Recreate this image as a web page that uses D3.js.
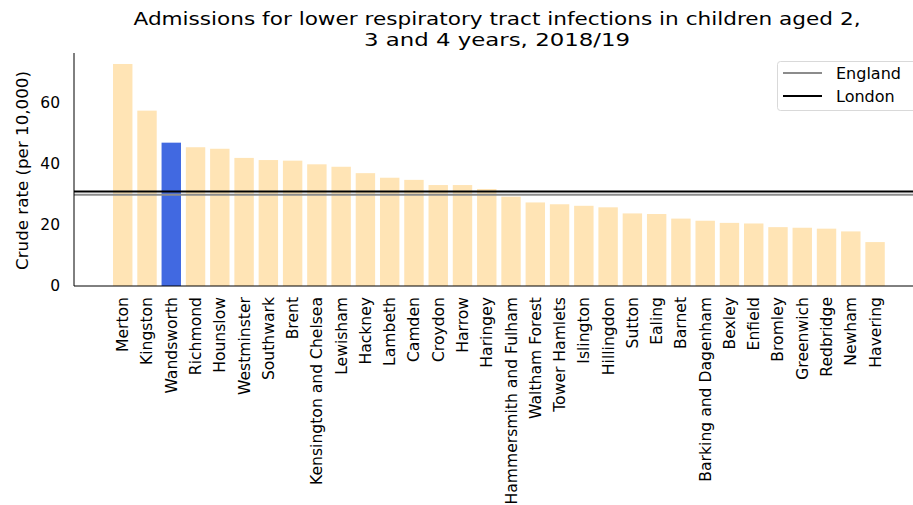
<!DOCTYPE html>
<html>
<head>
<meta charset="utf-8">
<script src="https://cdnjs.cloudflare.com/ajax/libs/d3/7.8.5/d3.min.js"></script>
<style>
body{margin:0;padding:0;background:#fff;overflow:hidden;}
svg{display:block;font-family:"DejaVu Sans",sans-serif;}
</style>
</head>
<body>
<div id="chart"></div>
<script>
// boroughs, sorted by rate
var boroughs = ["Merton","Kingston","Wandsworth","Richmond","Hounslow","Westminster","Southwark","Brent",
  "Kensington and Chelsea","Lewisham","Hackney","Lambeth","Camden","Croydon","Harrow","Haringey",
  "Hammersmith and Fulham","Waltham Forest","Tower Hamlets","Islington","Hillingdon","Sutton","Ealing",
  "Barnet","Barking and Dagenham","Bexley","Enfield","Bromley","Greenwich","Redbridge","Newham","Havering"];
var rates = [72.8,57.5,47.0,45.5,45.0,42.0,41.3,41.1,39.9,39.1,37.0,35.5,34.8,33.1,33.1,31.8,
  29.3,27.4,26.8,26.3,25.8,23.8,23.6,22.1,21.4,20.7,20.5,19.3,19.1,18.8,17.9,14.4];
var highlight = "Wandsworth";
var refNames = ["England","London"];
var refValues = [29.9,31.0];
var refColours = ["#8c8c8c","#000000"];
var yTicks = [0,20,40,60];
var title = ["Admissions for lower respiratory tract infections in children aged 2,","3 and 4 years, 2018/19"];

(function(){
var W = 913, H = 505;
var mLeft = 74, mRight = 920, mTop = 53, mBottom = 286;
var titleWidths = [727, 266];

var svg = d3.select("#chart").append("svg").attr("width", W).attr("height", H);

var x = d3.scaleBand().domain(boroughs).range([110.6, 887.2]).paddingInner(0.2).paddingOuter(0.1);
var y = d3.scaleLinear().domain([0, 76.4]).range([mBottom, mTop]);

svg.append("g").selectAll("rect")
  .data(boroughs)
  .enter().append("rect")
    .attr("x", function(d){return x(d);})
    .attr("width", x.bandwidth())
    .attr("y", function(d, i){return y(rates[i]);})
    .attr("height", function(d, i){return y(0) - y(rates[i]);})
    .attr("fill", function(d){return d == highlight ? "#4169e1" : "#ffe4b5";});

// reference lines
svg.append("g").selectAll("line")
  .data(refValues)
  .enter().append("line")
    .attr("x1", mLeft).attr("x2", mRight)
    .attr("y1", function(d){return y(d);})
    .attr("y2", function(d){return y(d);})
    .attr("stroke", function(d, i){return refColours[i];})
    .attr("stroke-width", 2);

// axes
var ya = svg.append("g").attr("transform", "translate(" + mLeft + ",0)")
  .call(d3.axisLeft(y).tickValues(yTicks).tickSize(0).tickPadding(14));
ya.select(".domain").remove();
ya.selectAll("text").attr("font-size", 15.5).attr("font-family", "DejaVu Sans").attr("fill", "#000");

var xa = svg.append("g").attr("transform", "translate(0," + mBottom + ")")
  .call(d3.axisBottom(x).tickSize(0));
xa.select(".domain").remove();
xa.selectAll("text")
  .attr("font-size", 15.6).attr("font-family", "DejaVu Sans").attr("fill", "#000")
  .attr("text-anchor", "end")
  .attr("transform", "rotate(-90)")
  .attr("x", -11).attr("y", 0).attr("dy", "0.35em");

svg.append("line").attr("x1", mLeft).attr("x2", mLeft).attr("y1", mTop).attr("y2", mBottom)
  .attr("stroke", "#000").attr("stroke-width", 1);
svg.append("line").attr("x1", mLeft).attr("x2", mRight).attr("y1", mBottom).attr("y2", mBottom)
  .attr("stroke", "#000").attr("stroke-width", 1);

svg.append("text")
  .attr("transform", "translate(22," + ((mTop + mBottom) / 2 + 1) + ") rotate(-90)")
  .attr("text-anchor", "middle").attr("dy", "0.35em")
  .attr("font-size", 16.7)
  .text("Crude rate (per 10,000)");

svg.append("g").selectAll("text")
  .data(title)
  .enter().append("text")
    .attr("x", 497).attr("y", function(d, i){return 25 + i * 20.7;})
    .attr("text-anchor", "middle").attr("font-size", 17.5)
    .attr("textLength", function(d, i){return titleWidths[i];})
    .attr("lengthAdjust", "spacingAndGlyphs")
    .text(function(d){return d;});

// legend
var lg = svg.append("g");
lg.append("rect").attr("x", 777.5).attr("y", 61.5).attr("width", 150).attr("height", 49)
  .attr("rx", 3).attr("fill", "#fff").attr("stroke", "#d9d9d9");
var items = lg.selectAll("g.item").data(refNames).enter().append("g").attr("class", "item")
  .attr("transform", function(d, i){return "translate(0," + (73 + i * 23) + ")";});
items.append("line").attr("x1", 783).attr("x2", 822)
  .attr("stroke", function(d, i){return refColours[i];}).attr("stroke-width", 2);
items.append("text").attr("x", 836).attr("dy", "0.35em").attr("font-size", 16)
  .text(function(d){return d;});
})();
</script>
</body>
</html>
